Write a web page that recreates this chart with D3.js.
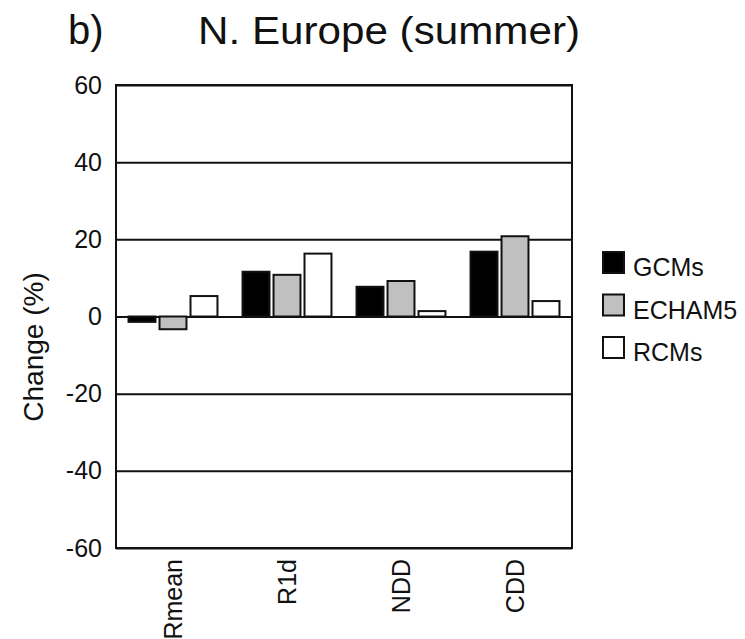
<!DOCTYPE html>
<html>
<head>
<meta charset="utf-8">
<script src="https://cdn.jsdelivr.net/npm/d3@7"></script>
<style>
    body { margin: 0; background: #fff; }
    text { font-family: Arial, 'Liberation Sans', sans-serif; fill: #111; }
</style>
</head>
<body>
<div id="chart"></div>
<script>
const CATEGORIES = ['Rmean', 'R1d', 'NDD', 'CDD'];
const SERIES = ['GCMs', 'ECHAM5', 'RCMs'];
const GCMS = [-1.4, 11.6, 7.7, 16.8];
const ECHAM5 = [-3.3, 10.8, 9.2, 20.8];
const RCMS = [5.3, 16.3, 1.4, 4.0];
const Y_TICKS = [-60, -40, -20, 0, 20, 40, 60];
const FILLS = ['#000000', '#c0c0c0', '#ffffff'];

const width = 745;
const height = 639;
const margin = { top: 85, bottom: 91, left: 116, right: 173 };

function drawChart() {
    let chartWidth = width - margin.left - margin.right;
    let chartHeight = height - margin.top - margin.bottom;

    let svg = d3.select('#chart').append('svg').attr('width', width).attr('height', height);
    const chart = svg.append('g').attr('transform', `translate(${margin.left}, ${margin.top})`);

    let values = [GCMS, ECHAM5, RCMS];
    let data = CATEGORIES.map((c, i) => ({
        key: c,
        bars: SERIES.map((s, j) => ({ series: s, value: values[j][i], fill: FILLS[j] }))
    }));

    const x0 = d3.scaleBand().domain(CATEGORIES).range([0, chartWidth]).paddingInner(0.22).paddingOuter(0.11);
    const x1 = d3.scaleBand().domain(SERIES).range([0, x0.bandwidth()]).paddingInner(0.13);
    const y = d3.scaleLinear().domain([-60, 60]).range([chartHeight, 0]);

    // gridlines across the plot
    chart
        .append('g')
        .attr('class', 'grid')
        .call(d3.axisLeft(y).tickValues(Y_TICKS).tickSize(-chartWidth).tickFormat(''))
        .call((g) => g.select('.domain').remove())
        .selectAll('line')
        .attr('stroke', '#111')
        .attr('stroke-width', 2);

    // y tick labels (plain hyphen for negatives, like the original)
    chart
        .append('g')
        .call(d3.axisLeft(y).tickValues(Y_TICKS).tickSize(0).tickPadding(14).tickFormat((d) => String(d)))
        .call((g) => g.select('.domain').remove())
        .selectAll('text')
        .attr('font-size', 25)
        .attr('font-family', 'Arial, Liberation Sans, sans-serif')
        .attr('fill', '#111');

    // bars
    chart
        .append('g')
        .selectAll('g')
        .data(data)
        .enter()
        .append('g')
        .attr('transform', (d) => `translate(${x0(d.key)}, 0)`)
        .selectAll('rect')
        .data((d) => d.bars)
        .enter()
        .append('rect')
        .attr('x', (b) => x1(b.series))
        .attr('y', (b) => y(Math.max(0, b.value)))
        .attr('width', x1.bandwidth())
        .attr('height', (b) => Math.abs(y(b.value) - y(0)))
        .attr('fill', (b) => b.fill)
        .attr('stroke', '#111')
        .attr('stroke-width', 2);

    // frame
    chart
        .append('rect')
        .attr('width', chartWidth)
        .attr('height', chartHeight)
        .attr('fill', 'none')
        .attr('stroke', '#111')
        .attr('stroke-width', 2);

    // category labels, rotated
    chart
        .append('g')
        .attr('transform', `translate(0, ${chartHeight})`)
        .call(d3.axisBottom(x0).tickSize(0).tickPadding(0))
        .call((g) => g.select('.domain').remove())
        .selectAll('text')
        .attr('font-size', 25)
        .attr('font-family', 'Arial, Liberation Sans, sans-serif')
        .attr('fill', '#111')
        .attr('text-anchor', 'end')
        .attr('transform', 'rotate(-90)')
        .attr('x', -11)
        .attr('y', 0)
        .attr('dy', '0.35em');

    // y axis title
    svg.append('text')
        .attr('transform', 'translate(43, 347) rotate(-90)')
        .attr('text-anchor', 'middle')
        .attr('font-size', 28)
        .attr('fill', '#222')
        .text('Change (%)');

    // title
    svg.append('text').attr('x', 68).attr('y', 44).attr('font-size', 40).text('b)');
    svg.append('text')
        .attr('x', 198)
        .attr('y', 44)
        .attr('font-size', 38)
        .attr('textLength', 382)
        .attr('lengthAdjust', 'spacingAndGlyphs')
        .text('N. Europe (summer)');

    // legend
    const legend = svg
        .append('g')
        .selectAll('g')
        .data(SERIES)
        .enter()
        .append('g')
        .attr('transform', (s, i) => `translate(603, ${252 + i * 42.5})`);

    legend
        .append('rect')
        .attr('width', 21)
        .attr('height', 21)
        .attr('fill', (s, i) => FILLS[i])
        .attr('stroke', '#111')
        .attr('stroke-width', 2);

    legend
        .append('text')
        .attr('x', 30)
        .attr('y', 24)
        .attr('font-size', 25)
        .text((s) => s);
}

window.addEventListener('DOMContentLoaded', drawChart);
</script>
</body>
</html>
